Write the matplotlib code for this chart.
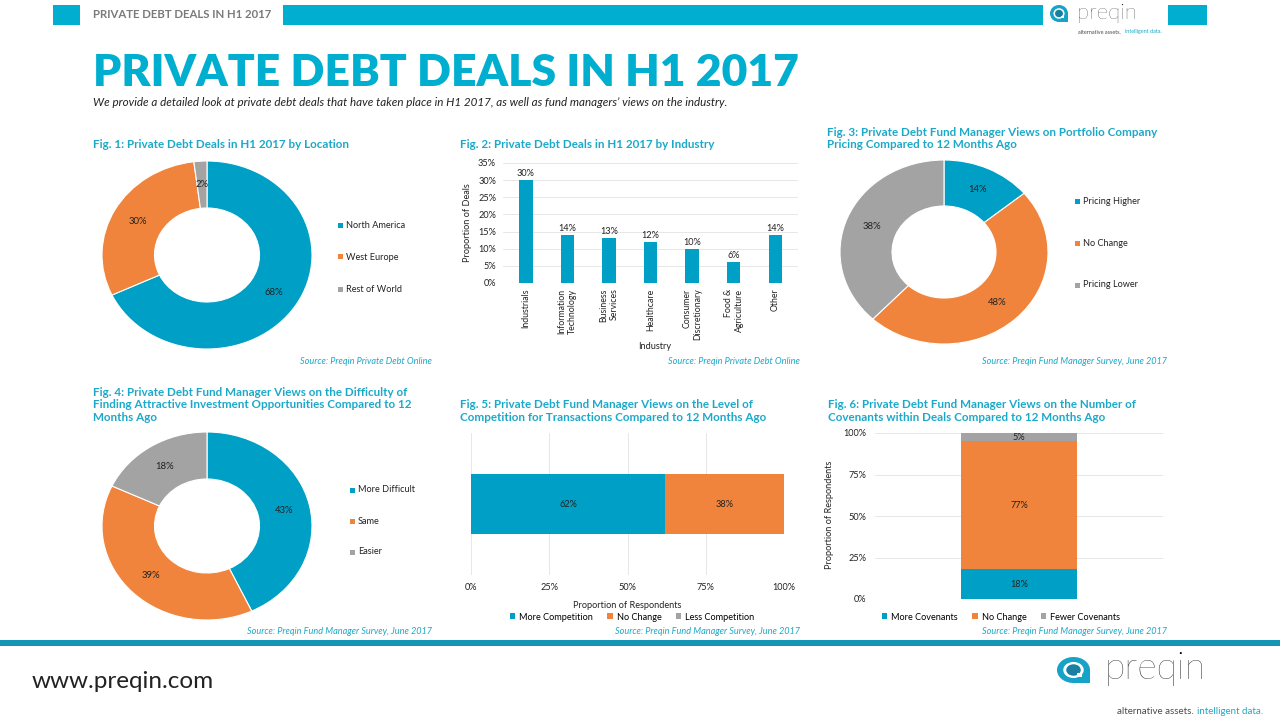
import matplotlib
matplotlib.use("Agg")
import matplotlib.pyplot as plt
from matplotlib.patches import Rectangle, Ellipse

W, H = 1280, 720
TEAL = "#00A0C6"
ORANGE = "#F0843C"
GREY = "#A3A3A3"
TITLE_TEAL = "#1CA9C9"
BAR_TEAL = "#00AECF"
COLORS = [TEAL, ORANGE, GREY]

plt.rcParams['font.family'] = ['Lato', 'DejaVu Sans']

# Fig. 1 - deals by location
loc_labels = ['North America', 'West Europe', 'Rest of World']
loc_values = [68, 30, 2]

# Fig. 2 - deals by industry
ind_labels = ['Industrials', 'Information\nTechnology', 'Business\nServices', 'Healthcare',
              'Consumer\nDiscretionary', 'Food &\nAgriculture', 'Other']
ind_values = [30, 14, 13, 12, 10, 6, 14]
ind_ticks = [0, 5, 10, 15, 20, 25, 30, 35]

# Fig. 3 - portfolio company pricing
pricing_labels = ['Pricing Higher', 'No Change', 'Pricing Lower']
pricing_values = [14, 48, 38]

# Fig. 4 - difficulty of finding opportunities
diff_labels = ['More Difficult', 'Same', 'Easier']
diff_values = [43, 39, 18]

# Fig. 5 - level of competition
comp_labels = ['More Competition', 'No Change', 'Less Competition']
comp_values = [62, 38, 0]

# Fig. 6 - number of covenants
cov_labels = ['More Covenants', 'No Change', 'Fewer Covenants']
cov_values = [18, 77, 5]

pct_ticks = [0, 25, 50, 75, 100]

fig = plt.figure(figsize=(12.8, 7.2), dpi=100)


def box(x, y, w, h):
    return [x / W, 1 - (y + h) / H, w / W, h / H]


def ftext(x, y, s, **kw):
    return fig.text(x / W, 1 - y / H, s, **kw)


def rect(x, y, w, h, color):
    fig.add_artist(Rectangle((x / W, 1 - (y + h) / H), w / W, h / H,
                             transform=fig.transFigure, color=color, lw=0))


def ellipse(cx, cy, w, h, color):
    fig.add_artist(Ellipse((cx / W, 1 - cy / H), w / W, h / H,
                           transform=fig.transFigure, color=color, lw=0))


def chart_title(x, y, lines):
    for i, line in enumerate(lines):
        ftext(x, y + i * 12, line, fontsize=8.4, fontweight='bold', color=TITLE_TEAL,
              va='center', ha='left')


def source(x, y, s):
    ftext(x, y, s, fontsize=6.6, style='italic', color=TITLE_TEAL, ha='right', va='center')


def logo(x, y, w, h, text_x, text_size, tag_x, tag_y, tag_size):
    # rough preqin mark: rounded shape with a squared lower-right corner
    ellipse(x + w / 2, y + h / 2, w, h, "#17A2C7")
    rect(x + w / 2, y + h / 2, w / 2, h / 2, "#17A2C7")
    ellipse(x + w / 2, y + h / 2, w * 0.62, h * 0.62, 'white')
    ellipse(x + w / 2, y + h / 2, w * 0.44, h * 0.44, "#1B7FA3")
    rect(x + w * 0.62, y + h * 0.62, w * 0.14, h * 0.14, 'white')
    ftext(text_x, y + h * 0.45, 'preqin', fontsize=text_size, color='#000000',
          fontweight='light', va='center', ha='left')
    t = ftext(tag_x, tag_y, 'alternative assets.', fontsize=tag_size, color='#4a4a4a',
              va='center', ha='left')
    fig.canvas.draw()
    bb = t.get_window_extent()
    fig.text(bb.x1 / W + 0.003, 1 - tag_y / H, 'intelligent data.', fontsize=tag_size,
             color=TITLE_TEAL, va='center', ha='left')


def donut(cx, cy, rx, ry, values, labels, leg_x, leg_ys):
    ax = fig.add_axes(box(cx - rx, cy - ry, 2 * rx, 2 * ry))
    ax.pie(values, colors=COLORS, startangle=90, counterclock=False,
           wedgeprops=dict(width=0.5, edgecolor='white', linewidth=0.8),
           autopct=lambda p: f'{p:.0f}%', pctdistance=0.75,
           textprops=dict(fontsize=6.8, color='#222222'))
    ax.set_aspect('auto')
    ax.set_xlim(-1, 1)
    ax.set_ylim(-1, 1)
    for lab, c, ly in zip(labels, COLORS, leg_ys):
        rect(leg_x - 2.5, ly - 2.5, 5, 5, c)
        ftext(leg_x + 6, ly, lab, fontsize=6.6, color='#222222', va='center', ha='left')


# ---------- header ----------
rect(53, 5, 27, 20, BAR_TEAL)
ftext(93, 15, 'PRIVATE DEBT DEALS IN H1 2017', fontsize=8.2, fontweight='bold',
      color='#7a7a7a', va='center')
rect(283, 5, 760, 20, BAR_TEAL)
rect(1168, 5, 39, 20, BAR_TEAL)
logo(1050, 5, 18, 17, 1077, 16, 1078, 32, 4.0)

ftext(93, 73, 'PRIVATE DEBT DEALS IN H1 2017', fontsize=32, fontweight='heavy',
      color=BAR_TEAL, va='center')
ftext(93, 103, "We provide a detailed look at private debt deals that have taken place in H1 2017, "
      "as well as fund managers\u2019 views on the industry.", fontsize=8.4, style='italic',
      color='#222222', va='center')

# ---------- Fig. 1 ----------
chart_title(93, 145, ['Fig. 1: Private Debt Deals in H1 2017 by Location'])
donut(207, 255, 105, 94, loc_values, loc_labels, 340, [225, 257, 289])
source(432, 361, 'Source: Preqin Private Debt Online')

# ---------- Fig. 2 ----------
chart_title(460, 145, ['Fig. 2: Private Debt Deals in H1 2017 by Industry'])
ax2 = fig.add_axes(box(503, 163, 295, 120))
xs = list(range(len(ind_values)))
bars = ax2.bar(xs, ind_values, width=0.32, color=TEAL, zorder=3)
ax2.bar_label(bars, labels=[f'{v}%' for v in ind_values], fontsize=6.6, padding=1.5,
              color='#222222')
ax2.set_xlim(-0.55, len(ind_values) - 0.45)
ax2.set_ylim(0, 35)
ax2.set_yticks(ind_ticks)
ax2.set_yticklabels([f'{t}%' for t in ind_ticks])
ax2.set_xticks(xs)
ax2.set_xticklabels(ind_labels, rotation=90, multialignment='right', va='top', ha='center',
                    fontsize=6.3, linespacing=1.25)
ax2.grid(axis='y', color='#e3e3e3', lw=0.6, zorder=0)
for s in ax2.spines.values():
    s.set_visible(False)
ax2.tick_params(axis='y', length=0, labelsize=6.6, labelcolor='#222222', pad=5)
ax2.tick_params(axis='x', length=0, labelcolor='#222222', pad=4)
ftext(655, 346, 'Industry', fontsize=6.6, color='#222222', ha='center', va='center')
ftext(467, 223, 'Proportion of Deals', fontsize=6.6, color='#222222', rotation=90,
      ha='center', va='center')
source(800, 361, 'Source: Preqin Private Debt Online')

# ---------- Fig. 3 ----------
chart_title(827, 133, ['Fig. 3: Private Debt Fund Manager Views on Portfolio Company',
                       'Pricing Compared to 12 Months Ago'])
donut(944, 252, 104, 92, pricing_values, pricing_labels, 1077, [201, 243, 285])
source(1167, 361, 'Source: Preqin Fund Manager Survey, June 2017')

# ---------- Fig. 4 ----------
chart_title(93, 393, ['Fig. 4: Private Debt Fund Manager Views on the Difficulty of',
                      'Finding Attractive Investment Opportunities Compared to 12',
                      'Months Ago'])
donut(207, 526, 105, 94, diff_values, diff_labels, 352, [490, 521, 552])
source(432, 632, 'Source: Preqin Fund Manager Survey, June 2017')

# ---------- Fig. 5 ----------
chart_title(460, 405, ['Fig. 5: Private Debt Fund Manager Views on the Level of',
                       'Competition for Transactions Compared to 12 Months Ago'])
ax5 = fig.add_axes(box(471, 433, 313, 142))
left = 0
for val, c, lab in zip(comp_values, COLORS, comp_labels):
    ax5.barh(0, val, left=left, height=1.0, color=c, label=lab, zorder=3)
    if val > 0:
        ax5.text(left + val / 2, 0, f'{val}%', ha='center', va='center', fontsize=6.6,
                 color='#222222', zorder=4)
    left += val
ax5.set_xlim(0, 100)
ax5.set_ylim(-1.2, 1.2)
ax5.set_xticks(pct_ticks)
ax5.set_xticklabels([f'{t}%' for t in pct_ticks])
ax5.set_yticks([])
ax5.grid(axis='x', color='#e3e3e3', lw=0.6, zorder=0)
for s in ax5.spines.values():
    s.set_visible(False)
ax5.tick_params(length=0, labelsize=6.6, labelcolor='#222222', pad=6)
ax5.set_xlabel('Proportion of Respondents', fontsize=6.6, color='#222222', labelpad=6)
ax5.legend(loc='center', bbox_to_anchor=((632 - 471) / 313, -(617 - 575) / 142), ncol=3,
           frameon=False, fontsize=6.6, handlelength=0.6, handleheight=0.6,
           handletextpad=0.4, columnspacing=1.6, borderaxespad=0)
source(800, 632, 'Source: Preqin Fund Manager Survey, June 2017')

# ---------- Fig. 6 ----------
chart_title(828, 405, ['Fig. 6: Private Debt Fund Manager Views on the Number of',
                       'Covenants within Deals Compared to 12 Months Ago'])
ax6 = fig.add_axes(box(875, 433, 288, 166))
bottom = 0
for val, c, lab in zip(cov_values, COLORS, cov_labels):
    ax6.bar(0, val, bottom=bottom, width=1.0, color=c, label=lab, zorder=3)
    ax6.text(0, bottom + val / 2, f'{val}%', ha='center', va='center', fontsize=6.6,
             color='#222222', zorder=4)
    bottom += val
ax6.set_xlim(-1.25, 1.25)
ax6.set_ylim(0, 100)
ax6.set_yticks(pct_ticks)
ax6.set_yticklabels([f'{t}%' for t in pct_ticks])
ax6.set_xticks([])
ax6.grid(axis='y', color='#e3e3e3', lw=0.6, zorder=0)
for s in ax6.spines.values():
    s.set_visible(False)
ax6.tick_params(length=0, labelsize=6.6, labelcolor='#222222', pad=6)
ftext(829, 515, 'Proportion of Respondents', fontsize=6.6, color='#222222', rotation=90,
      ha='center', va='center')
ax6.legend(loc='center', bbox_to_anchor=((1001 - 875) / 288, -(617 - 599) / 166), ncol=3,
           frameon=False, fontsize=6.6, handlelength=0.6, handleheight=0.6,
           handletextpad=0.4, columnspacing=1.6, borderaxespad=0)
source(1167, 632, 'Source: Preqin Fund Manager Survey, June 2017')

# ---------- footer ----------
rect(0, 640, W, 6, '#1795B6')
ftext(32, 681, 'www.preqin.com', fontsize=17.5, color='#222222', va='center')
logo(1057, 657, 33, 26, 1104, 27, 1117, 712, 7.0)

fig.savefig('out.png', dpi=100)
